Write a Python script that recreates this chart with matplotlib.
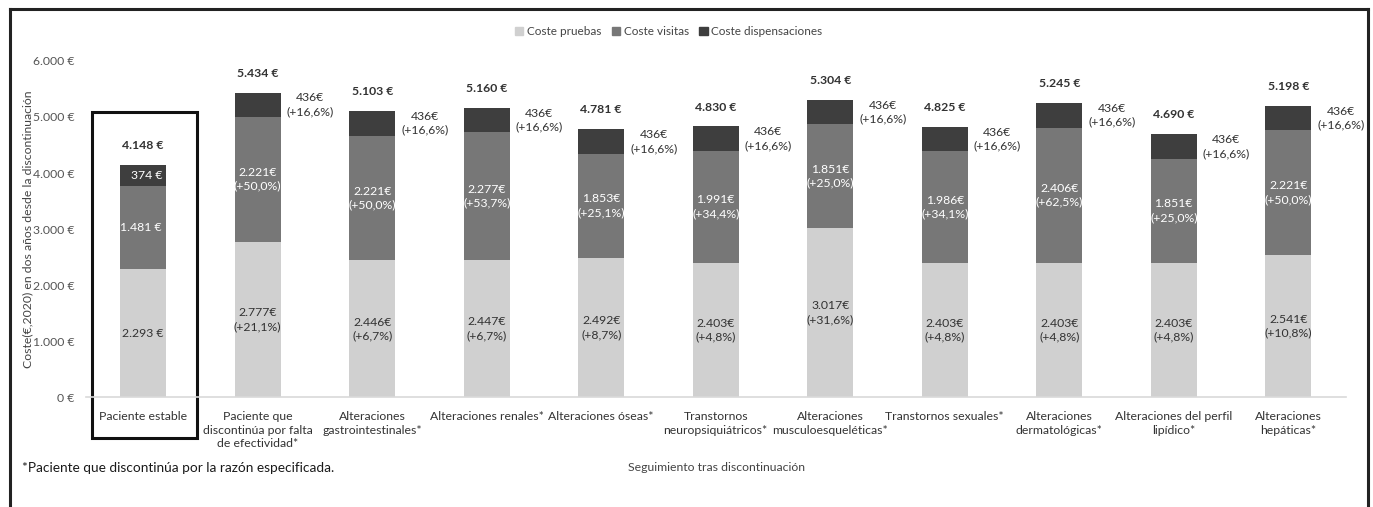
import matplotlib
matplotlib.use("Agg")
import matplotlib.pyplot as plt
from matplotlib.patches import Rectangle, Patch
from matplotlib.lines import Line2D

plt.rcParams["font.family"] = ["Lato", "DejaVu Sans"]

# Data (coste en dos años, €)
categories = [
    "Paciente estable",
    "Paciente que\ndiscontinúa por falta\nde efectividad*",
    "Alteraciones\ngastrointestinales*",
    "Alteraciones renales*",
    "Alteraciones óseas*",
    "Transtornos\nneuropsiquiátricos*",
    "Alteraciones\nmusculoesqueléticas*",
    "Transtornos sexuales*",
    "Alteraciones\ndermatológicas*",
    "Alteraciones del perfil\nlipídico*",
    "Alteraciones\nhepáticas*",
]
coste_pruebas = [2293, 2777, 2446, 2447, 2492, 2403, 3017, 2403, 2403, 2403, 2541]
coste_visitas = [1481, 2221, 2221, 2277, 1853, 1991, 1851, 1986, 2406, 1851, 2221]
coste_dispensaciones = [374, 436, 436, 436, 436, 436, 436, 436, 436, 436, 436]
pct_pruebas = [None, "+21,1%", "+6,7%", "+6,7%", "+8,7%", "+4,8%", "+31,6%", "+4,8%", "+4,8%", "+4,8%", "+10,8%"]
pct_visitas = [None, "+50,0%", "+50,0%", "+53,7%", "+25,1%", "+34,4%", "+25,0%", "+34,1%", "+62,5%", "+25,0%", "+50,0%"]
pct_dispensaciones = [None] + ["+16,6%"] * 10
totales = ["4.148 €", "5.434 €", "5.103 €", "5.160 €", "4.781 €", "4.830 €", "5.304 €", "4.825 €", "5.245 €", "4.690 €", "5.198 €"]

c_light = "#d0d0d0"
c_mid = "#777777"
c_dark = "#3e3e3e"
c_text = "#333333"


def fmt_eur(v):
    return f"{v:,}".replace(",", ".")


fig = plt.figure(figsize=(13.73, 5.07), dpi=100)
ax = fig.add_axes([0.0626, 0.216, 0.9174, 0.664])

x = list(range(len(categories)))
w = 0.4
bottom2 = [a + b for a, b in zip(coste_pruebas, coste_visitas)]
ax.bar(x, coste_pruebas, w, color=c_light, label="Coste pruebas")
ax.bar(x, coste_visitas, w, bottom=coste_pruebas, color=c_mid, label="Coste visitas")
ax.bar(x, coste_dispensaciones, w, bottom=bottom2, color=c_dark, label="Coste dispensaciones")

fs = 8.8
for i in x:
    p, v, d = coste_pruebas[i], coste_visitas[i], coste_dispensaciones[i]
    top = p + v + d
    if pct_pruebas[i] is None:
        ax.text(i, p / 2, f"{fmt_eur(p)} €", ha="center", va="center", fontsize=fs, color=c_text)
        ax.text(i + 0.16, p + v / 2, f"{fmt_eur(v)} €", ha="right", va="center", fontsize=fs, color="white")
        ax.text(i + 0.17, p + v + d / 2, f"{fmt_eur(d)} €", ha="right", va="center", fontsize=fs, color="white")
    else:
        ax.text(i, p / 2, f"{fmt_eur(p)}€\n({pct_pruebas[i]})", ha="center", va="center",
                fontsize=fs, color=c_text, linespacing=1.3)
        ax.text(i, p + v / 2, f"{fmt_eur(v)}€\n({pct_visitas[i]})", ha="center", va="center",
                fontsize=fs, color="white", linespacing=1.3)
        ax.text(i + 0.46, p + v + d / 2, f"{fmt_eur(d)}€\n({pct_dispensaciones[i]})", ha="center",
                va="center", fontsize=fs, color=c_text, linespacing=1.3)
    ax.annotate(totales[i], (i, top), xytext=(0, 10), textcoords="offset points",
                ha="center", va="bottom", fontsize=fs, fontweight="bold", color=c_text)

ax.set_xlim(-0.5, len(categories) - 0.5)
ax.set_ylim(0, 6000)
ax.set_yticks(range(0, 6001, 1000))
ax.set_yticklabels([f"{fmt_eur(t)} €" for t in range(0, 6001, 1000)], fontsize=fs, color="#555555")
ax.set_xticks(x)
ax.set_xticklabels(categories, fontsize=fs, color=c_text, linespacing=1.25, va="top")
ax.tick_params(length=0, pad=8)
ax.tick_params(axis="x", pad=10)
for s in ["top", "right", "left"]:
    ax.spines[s].set_visible(False)
ax.spines["bottom"].set_color("#d9d9d9")
ax.spines["bottom"].set_linewidth(1.2)

ax.set_ylabel("Coste(€,2020) en dos años desde la discontinuación", fontsize=fs, color="#444444")
ax.yaxis.set_label_coords(-0.042, 0.5)

# highlight box around stable patient
ax.add_patch(Rectangle((-0.448, -720), 0.917, 5810, fill=False, edgecolor="#111111",
                       linewidth=2.2, clip_on=False))

# legend
handles = [Patch(color=c_light), Patch(color=c_mid), Patch(color=c_dark)]
fig.legend(handles, ["Coste pruebas", "Coste visitas", "Coste dispensaciones"],
           loc="center", bbox_to_anchor=(0.487, 0.937), ncol=3, frameon=False,
           fontsize=8.5, handlelength=0.7, handleheight=0.7, handletextpad=0.3, columnspacing=0.9,
           labelcolor="#444444")

fig.text(0.522, 0.077, "Seguimiento tras discontinuación", ha="center", va="center",
         fontsize=fs, color="#444444")
fig.text(0.016, 0.077, "*Paciente que discontinúa por la razón especificada.", ha="left", va="center",
         fontsize=9.8, fontweight="normal", color="#1a1a1a")

# outer frame
for xs, ys in [([0.0075, 0.9965], [0.983, 0.983]), ([0.0075, 0.0075], [0.0, 0.983]),
               ([0.9965, 0.9965], [0.0, 0.983])]:
    fig.add_artist(Line2D(xs, ys, color="#222222", linewidth=2.2, transform=fig.transFigure))

fig.savefig("out.png", dpi=100)
